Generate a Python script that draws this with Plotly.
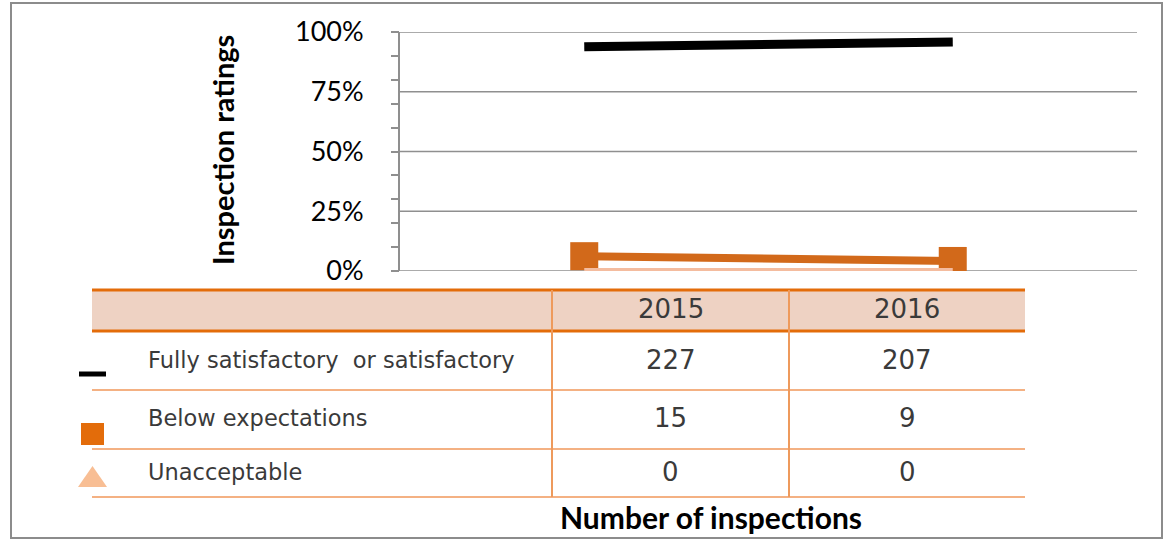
import plotly.graph_objects as go

# data
years = ["2015", "2016"]
series_names = ["Fully satisfactory  or satisfactory", "Below expectations", "Unacceptable"]
share_full = [0.938, 0.958]
share_below = [0.062, 0.042]
share_unacc = [0.0, 0.0]
counts_full = [227, 207]
counts_below = [15, 9]
counts_unacc = [0, 0]
y_ticks = [0, 0.25, 0.5, 0.75, 1.0]
y_tick_marks = [0, 0.1, 0.2, 0.3, 0.4, 0.5, 0.6, 0.7, 0.8, 0.9, 1.0]

W, H = 1164, 540


def px(x):
    return x / W


def py(y):
    return 1 - y / H


TXT = "#3a3a3a"
GRID = "#8f8f8f"
ORANGE_DARK = "#E36C0A"
ORANGE_LINE = "#D2691A"
PEACH = "#F4BC9F"
ROW_LINE = "#F4B183"

PLOT_X = [400, 1137]

fig = go.Figure()
fig.add_trace(go.Scatter(x=years, y=share_full, mode="lines", name=series_names[0],
                         line=dict(color="#000000", width=9)))
fig.add_trace(go.Scatter(x=years, y=share_below, mode="lines+markers", name=series_names[1],
                         line=dict(color=ORANGE_LINE, width=8),
                         marker=dict(symbol="square", size=28, color=ORANGE_LINE)))
fig.add_trace(go.Scatter(x=years, y=share_unacc, mode="lines", name=series_names[2],
                         line=dict(color=PEACH, width=6)))

shapes = []
annots = []

# gridlines at every labelled value (drawn as shapes so the end ones are kept)
for v in y_ticks:
    shapes.append(dict(type="line", xref="paper", yref="y", x0=px(PLOT_X[0]), x1=px(PLOT_X[1]),
                       y0=v, y1=v, line=dict(color=GRID, width=1.5), layer="below"))

# outer frame
shapes.append(dict(type="rect", xref="paper", yref="paper", x0=px(11), x1=px(1162),
                   y0=py(538), y1=py(3), line=dict(color="#8c8c8c", width=2)))

# table under the plot
col_edges = [92, 552, 789, 1025]
head_top, head_bot = 290, 331
row_bots = [390, 449, 497]
shapes.append(dict(type="rect", xref="paper", yref="paper", x0=px(col_edges[0]), x1=px(col_edges[-1]),
                   y0=py(head_bot), y1=py(head_top), fillcolor="#EED2C3", line=dict(width=0), layer="below"))
for yy in (head_top, head_bot):
    shapes.append(dict(type="line", xref="paper", yref="paper", x0=px(col_edges[0]), x1=px(col_edges[-1]),
                       y0=py(yy), y1=py(yy), line=dict(color=ORANGE_DARK, width=3)))
for yy in row_bots:
    shapes.append(dict(type="line", xref="paper", yref="paper", x0=px(col_edges[0]), x1=px(col_edges[-1]),
                       y0=py(yy), y1=py(yy), line=dict(color=ROW_LINE, width=2)))
for xx in col_edges[1:3]:
    shapes.append(dict(type="line", xref="paper", yref="paper", x0=px(xx), x1=px(xx),
                       y0=py(head_top), y1=py(row_bots[-1]), line=dict(color="#EE9A5C", width=2)))

# legend keys in the table
shapes.append(dict(type="line", xref="paper", yref="paper", x0=px(79), x1=px(106), y0=py(374), y1=py(374),
                   line=dict(color="#000000", width=5)))
shapes.append(dict(type="rect", xref="paper", yref="paper", x0=px(81), x1=px(104), y0=py(445), y1=py(423),
                   fillcolor=ORANGE_DARK, line=dict(width=0)))
shapes.append(dict(type="path", xref="paper", yref="paper",
                   path=f"M {px(78)} {py(487)} L {px(107)} {py(487)} L {px(92.5)} {py(466)} Z",
                   fillcolor="#F8BE94", line=dict(width=0)))

label_font = dict(family="DejaVu Sans", size=22.5, color=TXT)
num_font = dict(family="DejaVu Sans", size=26, color=TXT)
col_centers = [(col_edges[i] + col_edges[i + 1]) / 2 for i in (1, 2)]
for i, yr in enumerate(years):
    annots.append(dict(x=px(col_centers[i]), y=py(309), xref="paper", yref="paper", text=yr,
                       showarrow=False, font=num_font, xanchor="center", yanchor="middle"))

row_centers = [360, 418, 472]
row_counts = [counts_full, counts_below, counts_unacc]
for r, name in enumerate(series_names):
    annots.append(dict(x=px(146), y=py(row_centers[r]), xref="paper", yref="paper", text=name,
                       showarrow=False, font=label_font, xanchor="left", yanchor="middle"))
    for i in range(len(years)):
        annots.append(dict(x=px(col_centers[i]), y=py(row_centers[r]), xref="paper", yref="paper",
                           text=str(row_counts[r][i]), showarrow=False, font=num_font,
                           xanchor="center", yanchor="middle"))

annots.append(dict(x=px(711), y=py(517), xref="paper", yref="paper", text="<b>Number of inspections</b>",
                   showarrow=False, font=dict(family="Lato", size=30, color="#000000"),
                   xanchor="center", yanchor="middle"))
annots.append(dict(x=px(222), y=py(150), xref="paper", yref="paper", text="<b>Inspection ratings</b>",
                   textangle=-90, showarrow=False, font=dict(family="Lato", size=29, color="#000000"),
                   xanchor="center", yanchor="middle"))

yr_range = [0, 1]
fig.update_layout(
    template="none",
    width=W, height=H,
    margin=dict(l=0, r=0, t=0, b=0, pad=0, autoexpand=False),
    paper_bgcolor="white", plot_bgcolor="white",
    showlegend=False,
    shapes=shapes, annotations=annots,
    xaxis=dict(domain=[px(PLOT_X[0]), px(PLOT_X[1])], range=[-0.5, 1.5], type="category", automargin=False,
               showticklabels=False, showgrid=False, zeroline=False, showline=False, ticks=""),
    yaxis=dict(domain=[py(271), py(32)], range=yr_range, tickvals=y_ticks, tickformat=".0%", automargin=False,
               showgrid=False, zeroline=False,
               showline=True, linecolor=GRID, linewidth=2, ticks="",
               tickfont=dict(family="Lato", size=27, color="#000000"), ticklabelstandoff=29),
    # tick marks every 10% on the left of the value axis, as in the source
    yaxis2=dict(domain=[py(271), py(32)], range=yr_range, overlaying="y", anchor="x", side="left",
                tickvals=y_tick_marks, showticklabels=False, showgrid=False, zeroline=False,
                showline=False, ticks="outside", ticklen=8, tickwidth=2, tickcolor=GRID, automargin=False),
)
fig.add_trace(go.Scatter(x=[years[0]], y=[None], yaxis="y2", showlegend=False, hoverinfo="skip"))

# the page has a default body margin; drop it so the figure sits at the window's corner
fig.write_html("out.html", config={"displayModeBar": False},
               post_script="document.body.style.margin='0';document.body.style.overflow='hidden';")
